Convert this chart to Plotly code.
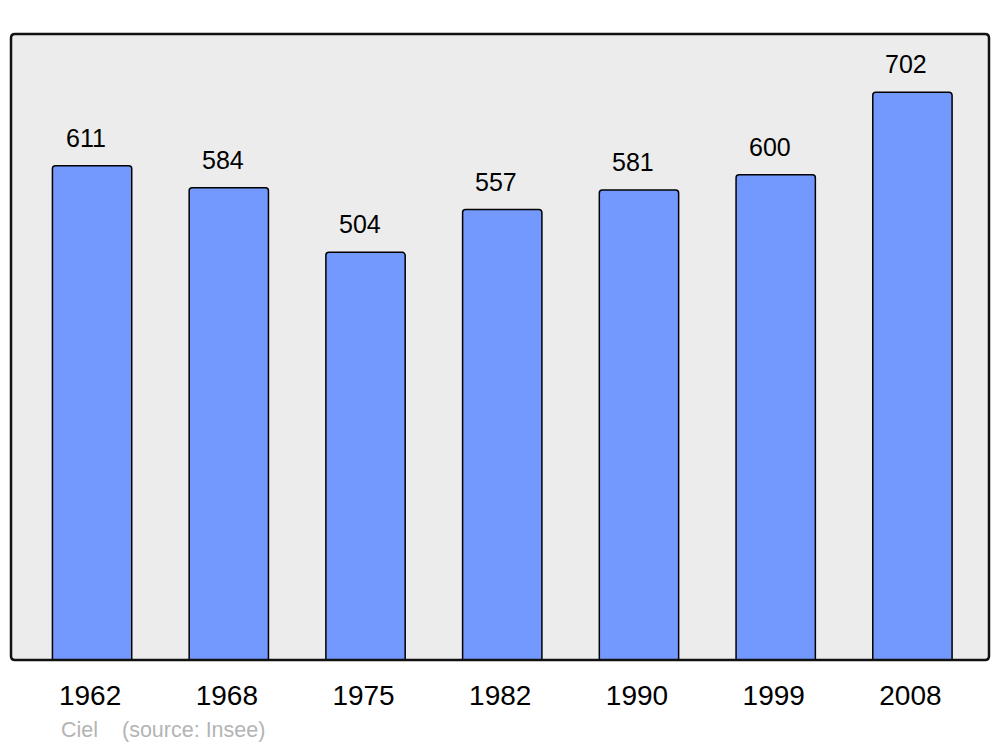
import plotly.graph_objects as go

years = ["1962", "1968", "1975", "1982", "1990", "1999", "2008"]
population = [611, 584, 504, 557, 581, 600, 702]
commune = "Ciel"
source = "(source: Insee)"

W, H = 1000, 747
L, R, T, B = 11, 11, 34, 87
pw, ph = W - L - R, H - T - B
FONT = "Liberation Sans, Arial, sans-serif"

fig = go.Figure()
fig.add_trace(go.Bar(
    x=years, y=population, width=0.58,
    marker=dict(color="#7399ff", line=dict(color="#000000", width=1.5), cornerradius=3),
    hoverinfo="x+y", showlegend=False,
))

# value labels above bars
annotations = []
for i, v in enumerate(population):
    annotations.append(dict(
        x=i, y=v, xref="x", yref="y", text=str(v), showarrow=False,
        yanchor="bottom", yshift=12, xshift=-6,
        font=dict(family=FONT, size=25, color="#000000"),
    ))

# footnote, positions in plot-domain fractions
foot_y = (H - B - 730) / ph
annotations.append(dict(
    x=(59 - L) / pw, y=foot_y, xref="paper", yref="paper", text=commune,
    xanchor="left", yanchor="middle", showarrow=False,
    font=dict(family=FONT, size=21.5, color="#b4b4b4"),
))
annotations.append(dict(
    x=(120 - L) / pw, y=foot_y, xref="paper", yref="paper", text=source,
    xanchor="left", yanchor="middle", showarrow=False,
    font=dict(family=FONT, size=21.5, color="#b4b4b4"),
))

# rounded border around plot area
rx, ry = 4 / pw, 4 / ph
path = (f"M {rx},0 L {1 - rx},0 Q 1,0 1,{ry} L 1,{1 - ry} Q 1,1 {1 - rx},1 "
        f"L {rx},1 Q 0,1 0,{1 - ry} L 0,{ry} Q 0,0 {rx},0 Z")

fig.update_layout(
    width=W, height=H,
    margin=dict(l=L, r=R, t=T, b=B),
    paper_bgcolor="#ffffff", plot_bgcolor="#ececec",
    xaxis=dict(type="category", range=[-0.593, 6.56], showgrid=False, zeroline=False,
               showline=False, ticks="outside", ticklen=10, tickcolor="rgba(0,0,0,0)",
               ticklabelshift=-2,
               tickfont=dict(family=FONT, size=28, color="#000000")),
    yaxis=dict(range=[0, 774], showgrid=False, zeroline=False, showline=False,
               showticklabels=False, ticks=""),
    shapes=[dict(type="path", xref="paper", yref="paper", path=path,
                 line=dict(color="#111111", width=2.5), layer="above")],
    annotations=annotations,
)

fig.write_html("out.html", config={"displayModeBar": False},
               post_script="document.body.style.margin='0';")
